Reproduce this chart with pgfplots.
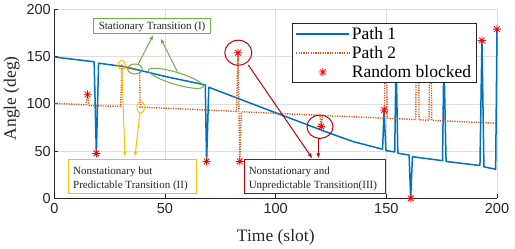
\documentclass[border=0pt]{standalone}
\usepackage{fontspec}
\setmainfont{Liberation Serif}
\newfontfamily\sansf{Liberation Sans}
\usepackage{pgfplots}
\pgfplotsset{compat=1.18}
\usepackage{pgfplotstable}
\usetikzlibrary{arrows.meta}
\definecolor{mblue}{RGB}{0,114,189}
\definecolor{morange}{RGB}{217,83,25}
\definecolor{mgreen}{RGB}{112,173,71}
\definecolor{myellow}{RGB}{255,192,0}
\definecolor{mred}{RGB}{192,0,0}
\definecolor{axgray}{RGB}{38,38,38}
\pgfdeclareplotmark{mstar}{%
  \pgfpathmoveto{\pgfpoint{-\pgfplotmarksize}{0pt}}\pgfpathlineto{\pgfpoint{\pgfplotmarksize}{0pt}}%
  \pgfpathmoveto{\pgfpoint{0pt}{-\pgfplotmarksize}}\pgfpathlineto{\pgfpoint{0pt}{\pgfplotmarksize}}%
  \pgfpathmoveto{\pgfpoint{-0.7071\pgfplotmarksize}{-0.7071\pgfplotmarksize}}\pgfpathlineto{\pgfpoint{0.7071\pgfplotmarksize}{0.7071\pgfplotmarksize}}%
  \pgfpathmoveto{\pgfpoint{-0.7071\pgfplotmarksize}{0.7071\pgfplotmarksize}}\pgfpathlineto{\pgfpoint{0.7071\pgfplotmarksize}{-0.7071\pgfplotmarksize}}%
  \pgfusepathqstroke}
\pgfplotsset{legend image code/.code={\draw[mark repeat=2,mark phase=2,#1] plot coordinates {(0pt,0pt) (26.5pt,0pt) (53pt,0pt)};}}

\pgfplotstableread{
x y
0 149.5
18 144.5
19 47.5
20 143
31 139.5
38.5 135.5
50 129
60 124
68.2 120
68.8 39
69.8 117.5
100 90.5
124.5 68.8
135 60
148.3 52
149 93.5
149.8 50.5
153.8 49
154.4 150
155.2 47.7
160.3 45.8
161 0
161.8 44
175.4 39.8
176 150
177 39
192.3 34.7
193.2 167
194.1 33.3
199.4 30.7
200 179
}\pathone

\pgfplotstableread{
x y
0 100.5
14.3 99
15 110
15.8 98
30 97.3
30.6 140.3
31 139.5
38.5 135.5
38.8 96.5
82.3 92
83 154
83.8 39
84.5 91.6
120 87.8
120.6 76
121.2 87.7
149.2 84.8
149.4 150
150.2 150
150.4 84.7
163.3 83.3
163.5 150
164.6 150
164.8 83.1
169.3 82.6
169.5 150
170.3 150
170.5 82.5
200 79.4
}\pathtwo

\pgfplotstableread{
x y
15 110
19 47.5
68.8 39
83 154
83.8 39
120.6 76
149 93.5
161 0
193.2 167
200 179
}\blocked

\begin{document}
\begin{tikzpicture}
\begin{axis}[
  at={(0,0)}, anchor=south west, scale only axis,
  width=442.7pt, height=189pt,
  xmin=0, xmax=200, ymin=0, ymax=200,
  xtick={0,50,...,200}, ytick={0,50,...,200},
  axis x line*=bottom, axis y line*=left,
  axis line style={draw=axgray, line width=0.6pt},
  grid=major, grid style={draw=black!13, line width=0.5pt},
  tick align=inside, major tick length=4pt,
  tick style={draw=axgray, line width=0.6pt},
  /pgf/number format/assume math mode=true,
  tick label style={font=\sansf\fontsize{14.5}{17}\selectfont, text=axgray},
  xticklabel style={yshift=-1.5pt},
  xlabel={Time (slot)}, ylabel={Angle (deg)},
  label style={font=\fontsize{17.5}{21}\selectfont, text=axgray},
  xlabel style={at={(axis description cs:0.5003,-0.2296)}, anchor=base},
  ylabel style={at={(axis description cs:-0.0962,0.529)}, anchor=center},
  clip=false,
  legend cell align=left,
  legend style={at={(rel axis cs:0.5376,0.926)}, anchor=north west,
    draw=axgray, fill=white,
    font=\fontsize{17.5}{21}\selectfont, inner xsep=3pt, inner ysep=1.5pt, row sep=1.5pt},
]
\addplot[mblue, line width=1.5pt, line join=round] table[x=x,y=y] {\pathone};
\addlegendentry{Path 1}
\addplot[morange, line width=1.4pt, dash pattern=on 1.2pt off 1.2pt] table[x=x,y=y] {\pathtwo};
\addlegendentry{Path 2}
\addplot[only marks, mark=mstar, mark size=4pt, red, line width=0.8pt] table[x=x,y=y] {\blocked};
\addlegendentry{Random blocked}
\end{axis}

% annotations (pt relative to axis lower-left corner)
\begin{scope}[line width=1pt, font=\fontsize{11}{14}\selectfont]
% green
\draw[mgreen] (80.7pt,129.3pt) ellipse [x radius=7.3pt, y radius=5pt];
\draw[mgreen, rotate around={-16.8:(121.5pt,120pt)}] (121.5pt,120pt) ellipse [x radius=28.7pt, y radius=6pt];
\draw[mgreen, -{Latex[length=5pt,width=4pt]}] (84pt,134.3pt) -- (99pt,163.3pt);
\draw[mgreen, -{Latex[length=5pt,width=4pt]}] (123pt,126.6pt) -- (106.4pt,160pt);
\draw[mgreen, fill=white] (39.7pt,165pt) rectangle (155.7pt,180pt);
\node[anchor=base west, inner sep=0pt, text=axgray] at (44pt,169pt) {Stationary Transition (I)};
% yellow
\draw[myellow] (67.4pt,133.3pt) ellipse [x radius=3.7pt, y radius=4.7pt];
\draw[myellow] (86.4pt,91pt) ellipse [x radius=3.7pt, y radius=6pt];
\draw[myellow, -{Latex[length=5pt,width=4pt]}] (67.6pt,128.5pt) -- (70.7pt,41.6pt);
\draw[myellow, -{Latex[length=5pt,width=4pt]}] (85.6pt,85pt) -- (80.7pt,41.6pt);
\draw[myellow, fill=white] (14pt,5pt) rectangle (141.7pt,38.3pt);
\node[anchor=base west, inner sep=0pt, text=axgray] at (18.4pt,24pt) {Nonstationary but};
\node[anchor=base west, inner sep=0pt, text=axgray] at (18.4pt,10pt) {Predictable Transition (II)};
% red
\draw[mred] (184pt,145.6pt) ellipse [x radius=13.5pt, y radius=12.5pt];
\draw[mred] (265.7pt,71.6pt) ellipse [x radius=13pt, y radius=11.7pt];
\draw[mred, -{Latex[length=5pt,width=4pt]}] (194pt,133.3pt) -- (258pt,40pt);
\draw[mred, -{Latex[length=5pt,width=4pt]}] (264pt,59.9pt) -- (264pt,40pt);
\draw[mred, fill=white] (190pt,5pt) rectangle (330.7pt,38.3pt);
\node[anchor=base west, inner sep=0pt, text=axgray] at (194pt,24pt) {Nonstationary and};
\node[anchor=base west, inner sep=0pt, text=axgray] at (194pt,10pt) {Unpredictable Transition(III)};
\end{scope}

\pgfresetboundingbox
\path[use as bounding box] (-54.3pt,-50.7pt) rectangle (460.7pt,198.3pt);
\end{tikzpicture}
\end{document}
